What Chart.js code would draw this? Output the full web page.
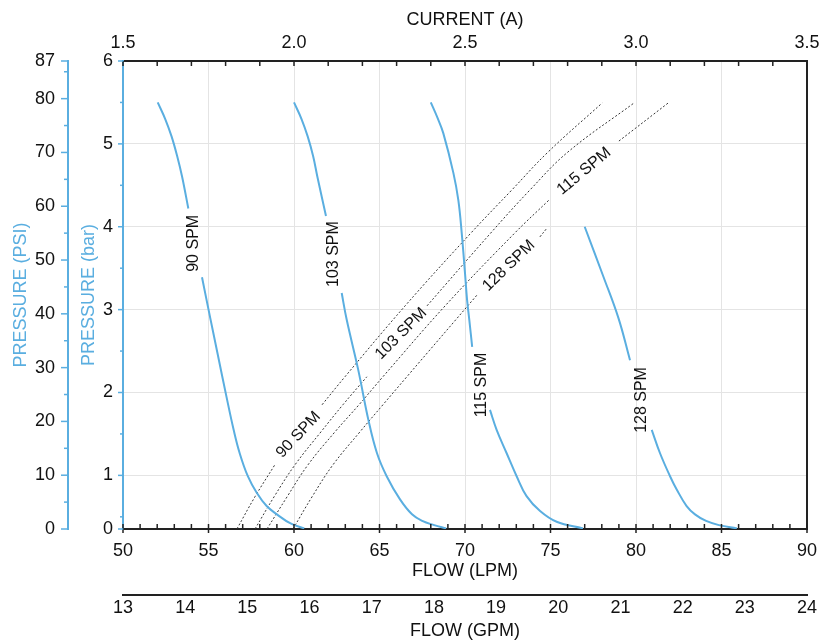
<!DOCTYPE html>
<html>
<head>
<meta charset="utf-8">
<script src="https://cdn.jsdelivr.net/npm/chart.js@4.4.1/dist/chart.umd.min.js"></script>
<style>
  html, body { margin: 0; padding: 0; background: #fff; }
</style>
</head>
<body>
<canvas id="pumpChart" width="820" height="640"></canvas>
<script>
// Kurva pompa: flow (LPM) vs tekanan (bar). null = celah untuk label
const flow90 = [52.03, 52.47, 52.84, 53.17, 53.46, 53.82, null, 54.62, 55.1, 55.52, 56.05, 56.47, 56.82, 57.3, 57.82, 58.4, 59.0, 59.8, 60.6];
const bar90 = [5.50, 5.30, 5.09, 4.85, 4.60, 4.22, null, 3.39, 2.90, 2.48, 1.95, 1.55, 1.27, 0.99, 0.79, 0.63, 0.53, 0.42, 0.36];

const flow103 = [60.0, 60.44, 60.8, 61.12, 61.37, 61.87, null, 62.79, 63.08, 63.76, 64.35, 64.85, 65.42, 66.2, 66.9, 67.5, 68.2, 68.9];
const bar103 = [5.50, 5.30, 5.09, 4.85, 4.60, 4.13, null, 3.20, 2.88, 2.27, 1.67, 1.27, 0.99, 0.71, 0.53, 0.45, 0.40, 0.36];

const flow115 = [68.0, 68.4, 68.73, 69.32, 69.61, 69.81, 70.0, 70.12, 70.25, 70.42, null, 71.46, 71.85, 72.43, 73.02, 73.6, 74.39, 75.36, 76.9];
const bar115 = [5.50, 5.31, 5.13, 4.65, 4.32, 3.92, 3.44, 3.12, 2.88, 2.55, null, 1.79, 1.55, 1.27, 0.99, 0.75, 0.57, 0.44, 0.36];

const flow128 = [77.0, 78.09, 78.97, 79.65, null, 80.92, 81.4, 81.99, 82.38, 82.96, 83.45, 84.1, 84.85, 85.9];
const bar128 = [4.00, 3.40, 2.90, 2.39, null, 1.55, 1.27, 0.99, 0.83, 0.63, 0.53, 0.45, 0.40, 0.36];

// Kurva arus: current (A) vs tekanan (bar), garis putus-putus
const amp90 = [1.833, 1.886, 1.944, null, 2.082, 2.149, 2.325, 2.515, 2.637, 2.743, 2.901];
const ampBar90 = [0.353, 0.743, 1.128, null, 1.852, 2.190, 3.046, 3.914, 4.444, 4.902, 5.493];

const amp103 = [1.886, 1.942, 2.003, 2.079, 2.143, 2.213, null, 2.389, 2.573, 2.690, 2.801, 2.994];
const ampBar103 = [0.353, 0.743, 1.128, 1.526, 1.852, 2.190, null, 3.046, 3.914, 4.444, 4.902, 5.493];

const amp115 = [1.921, 1.980, 2.041, 2.120, 2.190, 2.260, 2.442, 2.643, 2.746, null, 2.950, 3.094];
const ampBar115 = [0.353, 0.743, 1.128, 1.526, 1.852, 2.190, 3.046, 3.914, 4.324, null, 5.034, 5.493];

const amp128 = [1.997, 2.053, 2.114, 2.193, 2.260, 2.330, 2.538, null, 2.719, 2.739];
const ampBar128 = [0.353, 0.743, 1.128, 1.526, 1.852, 2.190, 3.190, null, 3.878, 3.98];

// Label sumbu
const barMin = 0.353;
const barTicks = [barMin, 1, 2, 3, 4, 5, 6];
const barTickLabels = ['0', '1', '2', '3', '4', '5', '6'];
const psiTicks = [0, 10, 20, 30, 40, 50, 60, 70, 80, 87];

const blue = '#5aaee0';
const dark = '#222';
const gridColor = '#e4e4e4';
const fontFamily = "'Liberation Sans', Arial, sans-serif";

function toPoints(xs, ys) {
    return xs.map((x, i) => ({ x: x, y: ys[i] }));
}

function pumpSet(xs, ys) {
    return {
        data: toPoints(xs, ys),
        borderColor: blue,
        borderWidth: 2,
        pointRadius: 0,
        tension: 0.4,
        xAxisID: 'x',
        yAxisID: 'y'
    };
}

function ampSet(xs, ys) {
    return {
        data: toPoints(xs, ys),
        borderColor: '#333',
        borderWidth: 1,
        borderDash: [2, 2],
        pointRadius: 0,
        tension: 0.4,
        xAxisID: 'xc',
        yAxisID: 'y'
    };
}

// Teks SPM di sepanjang kurva (posisi dalam satuan data)
const curveLabels = [
    { text: '90 SPM', axis: 'x', x: 54.13, y: 3.80, angle: -90 },
    { text: '103 SPM', axis: 'x', x: 62.32, y: 3.67, angle: -90 },
    { text: '115 SPM', axis: 'x', x: 70.98, y: 2.09, angle: -90 },
    { text: '128 SPM', axis: 'x', x: 80.31, y: 1.91, angle: -90 },
    { text: '90 SPM', axis: 'xc', x: 2.013, y: 1.49, angle: -47 },
    { text: '103 SPM', axis: 'xc', x: 2.313, y: 2.71, angle: -45 },
    { text: '115 SPM', axis: 'xc', x: 2.848, y: 4.67, angle: -40 },
    { text: '128 SPM', axis: 'xc', x: 2.628, y: 3.53, angle: -44 }
];

function seg(ctx, x1, y1, x2, y2) {
    ctx.beginPath();
    ctx.moveTo(x1, y1);
    ctx.lineTo(x2, y2);
    ctx.stroke();
}

// Tick mayor/minor digambar sendiri supaya panjangnya bisa beda
const tickMarks = {
    id: 'tickMarks',
    afterDraw(chart) {
        const ctx = chart.ctx;
        const s = chart.scales;
        ctx.save();
        ctx.lineWidth = 1.5;

        ctx.strokeStyle = dark;
        const yb = s.x.top;
        for (let v = 50; v <= 90; v++) {
            const px = s.x.getPixelForValue(v);
            seg(ctx, px, yb - 5, px, v % 5 === 0 ? yb + 4 : yb);
        }
        const yt = s.xc.bottom;
        for (let i = 15; i <= 35; i++) {
            const px = s.xc.getPixelForValue(i / 10);
            seg(ctx, px, yt, px, yt + 5);
        }

        ctx.strokeStyle = blue;
        const xb = s.y.right;
        barTicks.forEach(v => {
            const py = s.y.getPixelForValue(v);
            seg(ctx, xb - 5, py, xb, py);
        });
        for (let i = 1; i < 12; i += 2) {
            const py = s.y.getPixelForValue(i / 2);
            seg(ctx, xb - 3, py, xb, py);
        }
        const xp = s.yp.right;
        psiTicks.forEach(v => {
            const py = s.yp.getPixelForValue(v);
            seg(ctx, xp - 7, py, xp, py);
        });
        for (let v = 5; v < 87; v += 10) {
            const py = s.yp.getPixelForValue(v);
            seg(ctx, xp - 4, py, xp, py);
        }
        ctx.restore();
    },
    afterDatasetsDraw(chart) {
        const ctx = chart.ctx;
        ctx.save();
        ctx.fillStyle = '#111';
        ctx.font = '16px ' + fontFamily;
        ctx.textAlign = 'center';
        ctx.textBaseline = 'middle';
        curveLabels.forEach(l => {
            const px = chart.scales[l.axis].getPixelForValue(l.x);
            const py = chart.scales.y.getPixelForValue(l.y);
            ctx.save();
            ctx.translate(px, py);
            ctx.rotate(l.angle * Math.PI / 180);
            ctx.fillText(l.text, 0, 0);
            ctx.restore();
        });
        ctx.restore();
    }
};

function fixHeight(h) {
    return scale => {
        scale.height = h;
        scale.paddingLeft = 0;
        scale.paddingRight = 0;
    };
}

function fixWidth(w) {
    return scale => {
        scale.width = w;
        scale.paddingTop = 0;
        scale.paddingBottom = 0;
    };
}

const tickFont = { family: fontFamily, size: 18 };
const titleFont = { family: fontFamily, size: 18 };

const ctx = document.getElementById('pumpChart').getContext('2d');
const pumpChart = new Chart(ctx, {
    type: 'line',
    data: {
        datasets: [
            pumpSet(flow90, bar90),
            pumpSet(flow103, bar103),
            pumpSet(flow115, bar115),
            pumpSet(flow128, bar128),
            ampSet(amp90, ampBar90),
            ampSet(amp103, ampBar103),
            ampSet(amp115, ampBar115),
            ampSet(amp128, ampBar128)
        ]
    },
    options: {
        responsive: false,
        animation: false,
        spanGaps: false,
        layout: { padding: 0 },
        plugins: {
            legend: { display: false },
            tooltip: { enabled: false }
        },
        scales: {
            x: {
                type: 'linear',
                position: 'bottom',
                weight: 0,
                min: 50,
                max: 90,
                ticks: { stepSize: 5, color: '#111', font: tickFont, padding: 11, maxRotation: 0, autoSkip: false },
                grid: {
                    drawTicks: false,
                    color: c => (c.tick && (c.tick.value === 50 || c.tick.value === 90)) ? 'transparent' : gridColor
                },
                border: { color: dark, width: 2 },
                title: { display: true, text: 'FLOW (LPM)', color: '#111', font: titleFont, padding: { top: 0, bottom: 13 } },
                afterFit: fixHeight(66)
            },
            xg: {
                type: 'linear',
                position: 'bottom',
                weight: 1,
                min: 13,
                max: 24,
                ticks: { stepSize: 1, color: '#111', font: tickFont, padding: 2, maxRotation: 0, autoSkip: false },
                grid: { drawTicks: false, drawOnChartArea: false },
                border: { color: dark, width: 2 },
                title: { display: true, text: 'FLOW (GPM)', color: '#111', font: { family: fontFamily, size: 18, lineHeight: 1 }, padding: { top: 0, bottom: 0 } },
                afterFit: fixHeight(45)
            },
            xc: {
                type: 'linear',
                position: 'top',
                min: 1.5,
                max: 3.5,
                ticks: { stepSize: 0.5, color: '#111', font: tickFont, padding: 7, maxRotation: 0, autoSkip: false,
                    callback: v => v.toFixed(1) },
                grid: { drawTicks: false, drawOnChartArea: false },
                border: { color: dark, width: 2 },
                title: { display: true, text: 'CURRENT (A)', color: '#111', font: titleFont, padding: { top: 9, bottom: 0 } },
                afterFit: fixHeight(61)
            },
            y: {
                type: 'linear',
                position: 'left',
                weight: 0,
                min: barMin,
                max: 6,
                afterBuildTicks: scale => { scale.ticks = barTicks.map(v => ({ value: v })); },
                ticks: { color: '#111', font: tickFont, padding: 10, autoSkip: false,
                    callback: (v, i) => barTickLabels[i] },
                grid: {
                    drawTicks: false,
                    color: c => (c.tick && (c.tick.value <= barMin || c.tick.value >= 6)) ? 'transparent' : gridColor
                },
                border: { color: blue, width: 2 },
                title: { display: true, text: 'PRESSURE (bar)', color: blue, font: titleFont, padding: { top: 10, bottom: 0 } },
                afterFit: fixWidth(55)
            },
            yp: {
                type: 'linear',
                position: 'left',
                weight: 1,
                min: 0,
                max: 87,
                afterBuildTicks: scale => { scale.ticks = psiTicks.map(v => ({ value: v })); },
                ticks: { color: '#111', font: tickFont, padding: 13, autoSkip: false },
                grid: { drawTicks: false, drawOnChartArea: false },
                border: { color: blue, width: 2 },
                title: { display: true, text: 'PRESSURE (PSI)', color: blue, font: titleFont, padding: { top: 10, bottom: 0 } },
                afterFit: fixWidth(68)
            },
            yr: {
                type: 'linear',
                position: 'right',
                min: 0,
                max: 6,
                ticks: { display: false },
                grid: { drawTicks: false, drawOnChartArea: false },
                border: { color: dark, width: 2 },
                afterFit: fixWidth(13)
            }
        }
    },
    plugins: [tickMarks]
});
</script>
</body>
</html>
